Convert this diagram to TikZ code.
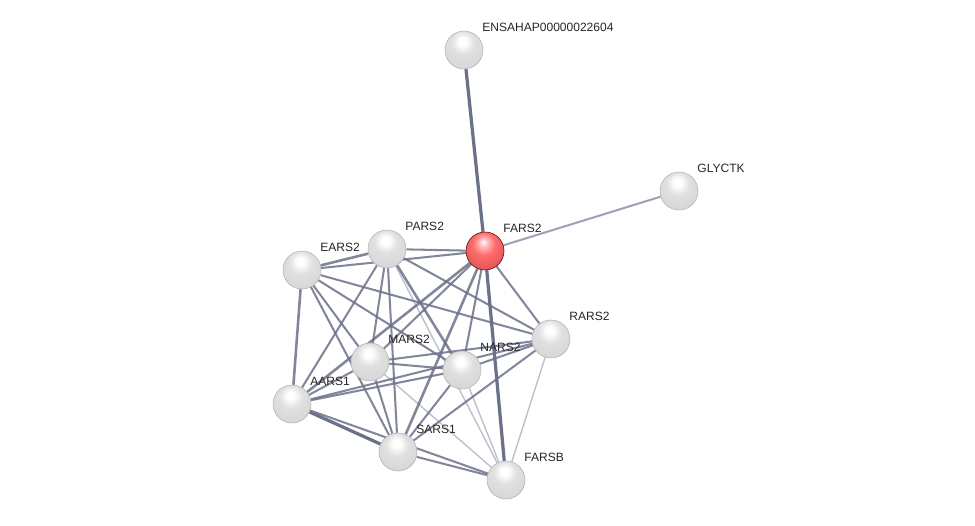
\documentclass[tikz,border=0pt]{standalone}
\usepackage{fontspec}
\setmainfont{Liberation Sans}
\usetikzlibrary{positioning,backgrounds}
\newcommand{\FarsNetSize}{2.6}
\definecolor{lnkgray}{RGB}{108,113,138}
\pgfdeclareradialshading{protball}{\pgfpoint{-2bp}{12bp}}{color(0bp)=(white); color(5bp)=(white); color(15bp)=(gray!24); color(32bp)=(gray!32); color(44bp)=(gray!48); color(52bp)=(gray!68); color(70bp)=(gray!75)}
\pgfdeclareradialshading{seedball}{\pgfpoint{-2bp}{12bp}}{color(0bp)=(white); color(5bp)=(red!25!white); color(15bp)=(red!58!white); color(32bp)=(red!62!white!88!black); color(44bp)=(red!65!black); color(52bp)=(red!40!black); color(70bp)=(red!35!black)}
\tikzset{
  prot/.style={circle, minimum size=\FarsNetSize*0.38 cm, inner sep=0pt, shading=protball, draw=gray!60, line width=0.4pt},
  seed/.style={prot, shading=seedball, draw=red!35!black},
  lbl/.style={font=\fontsize{8.9}{10}\selectfont, text=black!85},
  lnk/.style={draw=lnkgray, line width=1.5pt, draw opacity=0.85},
  lnkstrong/.style={lnk, line width=2.4pt, draw opacity=1},
  lnkweak/.style={lnk, line width=1pt, draw opacity=0.45},
}

\begin{document}
\begin{tikzpicture}[on grid]
  \useasboundingbox (-\FarsNetSize*4.85, \FarsNetSize*2.51) rectangle (\FarsNetSize*4.90, -\FarsNetSize*2.74);
  % seed protein and its partners
  \node[seed, label={[lbl]above right:FARS2}] (fars2) at (0,0) {};
  \node[prot, label={[lbl]above right:ENSAHAP00000022604}, above left=\FarsNetSize*2.01 cm and \FarsNetSize*0.21 cm of fars2] (ensahap) {};
  \node[prot, label={[lbl]above right:GLYCTK}, above right=\FarsNetSize*0.60 cm and \FarsNetSize*1.94 cm of fars2] (glyctk) {};
  \node[prot, label={[lbl]above right:PARS2}, above left=\FarsNetSize*0.02 cm and \FarsNetSize*0.98 cm of fars2] (pars2) {};
  \node[prot, label={[lbl]above right:EARS2}, below left=\FarsNetSize*0.19 cm and \FarsNetSize*1.83 cm of fars2] (ears2) {};
  \node[prot, label={[lbl]above right:RARS2}, below right=\FarsNetSize*0.88 cm and \FarsNetSize*0.66 cm of fars2] (rars2) {};
  \node[prot, label={[lbl]above right:MARS2}, below left=\FarsNetSize*1.11 cm and \FarsNetSize*1.15 cm of fars2] (mars2) {};
  \node[prot, label={[lbl]above right:NARS2}, below left=\FarsNetSize*1.19 cm and \FarsNetSize*0.23 cm of fars2] (nars2) {};
  \node[prot, label={[lbl]above right:AARS1}, below left=\FarsNetSize*1.53 cm and \FarsNetSize*1.93 cm of fars2] (aars1) {};
  \node[prot, label={[lbl]above right:SARS1}, below left=\FarsNetSize*2.01 cm and \FarsNetSize*0.87 cm of fars2] (sars1) {};
  \node[prot, label={[lbl]above right:FARSB}, below right=\FarsNetSize*2.29 cm and \FarsNetSize*0.21 cm of fars2] (farsb) {};
  % links
  \begin{scope}[on background layer]
    \fill[white] (-\FarsNetSize*4.85, \FarsNetSize*2.51) rectangle (\FarsNetSize*4.90, -\FarsNetSize*2.74);
    \draw[lnkstrong] (fars2) -- (ensahap);
    \draw[lnk, draw opacity=0.65] (fars2) -- (glyctk);
    \draw[lnkstrong] (fars2) -- (farsb);
    \draw[lnk] (fars2) -- (pars2);
    \draw[lnk] (fars2) -- (ears2);
    \draw[lnk] (fars2) -- (rars2);
    \draw[lnk] (fars2) -- (mars2);
    \draw[lnk] (fars2) -- (nars2);
    \draw[lnk, line width=1.9pt] (fars2) -- (aars1);
    \draw[lnk, line width=1.9pt] (fars2) -- (sars1);
    \draw[lnk, line width=1.9pt] (pars2) -- (ears2);
    \draw[lnk] (pars2) -- (rars2);
    \draw[lnk] (pars2) -- (mars2);
    \draw[lnk, line width=1.9pt] (pars2) -- (nars2);
    \draw[lnk] (pars2) -- (aars1);
    \draw[lnk] (pars2) -- (sars1);
    \draw[lnkweak] (pars2) -- (farsb);
    \draw[lnk] (ears2) -- (rars2);
    \draw[lnk] (ears2) -- (nars2);
    \draw[lnk] (ears2) -- (mars2);
    \draw[lnk] (ears2) -- (sars1);
    \draw[lnk, line width=1.9pt] (ears2) -- (aars1);
    \draw[lnk] (mars2) -- (rars2);
    \draw[lnk] (mars2) -- (nars2);
    \draw[lnk] (mars2) -- (aars1);
    \draw[lnk] (mars2) -- (sars1);
    \draw[lnkweak] (mars2) -- (farsb);
    \draw[lnk] (nars2) -- (rars2);
    \draw[lnk] (nars2) -- (aars1);
    \draw[lnk] (nars2) -- (sars1);
    \draw[lnkweak] (nars2) -- (farsb);
    \draw[lnk] (aars1) -- (rars2);
    \draw[lnkstrong] (aars1) -- (sars1);
    \draw[lnk] (aars1) -- (farsb);
    \draw[lnk] (sars1) -- (rars2);
    \draw[lnk] (sars1) -- (farsb);
    \draw[lnkweak] (rars2) -- (farsb);
  \end{scope}
\end{tikzpicture}
\end{document}
